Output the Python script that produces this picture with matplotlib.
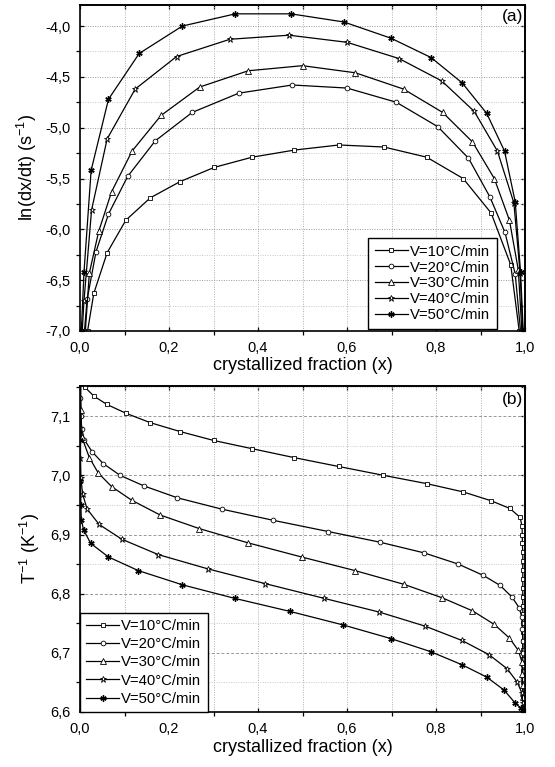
import matplotlib
matplotlib.use('Agg')
import matplotlib.pyplot as plt
from matplotlib.ticker import MultipleLocator, FuncFormatter

plt.rcParams['font.family'] = ['Liberation Sans', 'DejaVu Sans']
plt.rcParams['mathtext.fontset'] = 'custom'
plt.rcParams['mathtext.rm'] = 'Liberation Sans'
plt.rcParams['mathtext.it'] = 'Liberation Sans:italic'
plt.rcParams['mathtext.default'] = 'regular'

labels = ['V=10°C/min', 'V=20°C/min', 'V=30°C/min', 'V=40°C/min', 'V=50°C/min']

# ---------- panel (a): ln(dx/dt) vs crystallized fraction ----------
a10_x = [0.017, 0.031, 0.061, 0.103, 0.158, 0.225, 0.302, 0.387, 0.482, 0.582, 0.683, 0.779, 0.861, 0.924, 0.968, 0.987]
a10_y = [-7.00, -6.63, -6.23, -5.91, -5.69, -5.53, -5.39, -5.29, -5.22, -5.17, -5.19, -5.29, -5.50, -5.84, -6.35, -7.00]
a20_x = [0.010, 0.016, 0.036, 0.064, 0.107, 0.169, 0.252, 0.357, 0.477, 0.600, 0.711, 0.804, 0.873, 0.921, 0.955, 0.978, 0.990]
a20_y = [-7.00, -6.69, -6.22, -5.85, -5.48, -5.13, -4.85, -4.66, -4.58, -4.61, -4.75, -4.99, -5.30, -5.68, -6.03, -6.44, -7.00]
a30_x = [0.012, 0.021, 0.042, 0.071, 0.117, 0.182, 0.269, 0.378, 0.500, 0.619, 0.727, 0.815, 0.882, 0.931, 0.965, 0.985, 0.993]
a30_y = [-7.00, -6.43, -6.02, -5.63, -5.23, -4.88, -4.60, -4.44, -4.39, -4.46, -4.62, -4.85, -5.14, -5.50, -5.91, -6.40, -7.00]
a40_x = [0.005, 0.009, 0.026, 0.061, 0.124, 0.217, 0.337, 0.470, 0.600, 0.717, 0.813, 0.886, 0.938, 0.975, 0.989, 0.995]
a40_y = [-7.00, -6.70, -5.81, -5.11, -4.62, -4.30, -4.13, -4.09, -4.16, -4.32, -4.54, -4.84, -5.23, -5.74, -6.43, -7.00]
a50_x = [0.003, 0.009, 0.025, 0.064, 0.133, 0.230, 0.349, 0.474, 0.593, 0.699, 0.789, 0.859, 0.914, 0.954, 0.978, 0.990, 0.996]
a50_y = [-7.00, -6.42, -5.42, -4.72, -4.27, -4.00, -3.88, -3.88, -3.96, -4.12, -4.31, -4.56, -4.86, -5.23, -5.73, -6.42, -7.00]

# ---------- panel (b): 1/T vs crystallized fraction ----------
b10_x = [0.008, 0.011, 0.031, 0.060, 0.103, 0.158, 0.225, 0.300, 0.387, 0.481, 0.581, 0.682, 0.779, 0.861, 0.924, 0.966, 0.989,
         0.993, 0.994, 0.994, 0.995, 0.995, 0.995, 0.995, 0.995, 0.995, 0.995, 0.995, 0.995, 0.995, 0.995, 0.995, 0.995, 0.995, 0.995, 0.995, 0.995]
b10_y = [7.170, 7.149, 7.134, 7.120, 7.105, 7.089, 7.074, 7.059, 7.045, 7.030, 7.015, 7.000, 6.986, 6.972, 6.957, 6.944, 6.929,
         6.915, 6.900, 6.885, 6.870, 6.855, 6.840, 6.825, 6.810, 6.795, 6.780, 6.765, 6.750, 6.735, 6.720, 6.705, 6.690, 6.670, 6.650, 6.625, 6.600]
b20_x = [0.001, 0.001, 0.002, 0.004, 0.010, 0.027, 0.052, 0.090, 0.144, 0.219, 0.318, 0.434, 0.558, 0.674, 0.773, 0.850, 0.906, 0.944, 0.971, 0.987,
         0.993, 0.994, 0.995, 0.995, 0.995, 0.995, 0.995, 0.995]
b20_y = [7.170, 7.130, 7.100, 7.078, 7.060, 7.040, 7.020, 7.000, 6.982, 6.962, 6.943, 6.924, 6.905, 6.887, 6.869, 6.850, 6.831, 6.814, 6.794, 6.776,
         6.760, 6.740, 6.720, 6.700, 6.680, 6.655, 6.630, 6.600]
b30_x = [0.001, 0.002, 0.004, 0.021, 0.041, 0.071, 0.116, 0.180, 0.268, 0.377, 0.498, 0.618, 0.727, 0.814, 0.882, 0.931, 0.965, 0.985,
         0.993, 0.994, 0.995, 0.995, 0.995]
b30_y = [7.170, 7.110, 7.065, 7.030, 7.004, 6.981, 6.958, 6.933, 6.910, 6.886, 6.862, 6.839, 6.816, 6.793, 6.771, 6.748, 6.725, 6.704,
         6.685, 6.665, 6.645, 6.625, 6.600]
b40_x = [0.001, 0.001, 0.001, 0.002, 0.006, 0.016, 0.043, 0.094, 0.176, 0.287, 0.416, 0.549, 0.672, 0.776, 0.858, 0.919, 0.960, 0.983,
         0.993, 0.995, 0.995]
b40_y = [7.170, 7.080, 7.030, 6.995, 6.968, 6.943, 6.917, 6.892, 6.866, 6.842, 6.817, 6.792, 6.769, 6.745, 6.721, 6.697, 6.673, 6.650,
         6.632, 6.615, 6.600]
b50_x = [0.001, 0.001, 0.001, 0.002, 0.003, 0.008, 0.024, 0.064, 0.131, 0.230, 0.348, 0.472, 0.592, 0.699, 0.788, 0.858, 0.914, 0.953, 0.978,
         0.990, 0.995]
b50_y = [7.170, 7.060, 6.990, 6.950, 6.925, 6.908, 6.885, 6.862, 6.839, 6.815, 6.792, 6.770, 6.747, 6.724, 6.702, 6.680, 6.659, 6.637, 6.615,
         6.607, 6.600]

a_series = [(a10_x, a10_y), (a20_x, a20_y), (a30_x, a30_y), (a40_x, a40_y), (a50_x, a50_y)]
b_series = [(b10_x, b10_y), (b20_x, b20_y), (b30_x, b30_y), (b40_x, b40_y), (b50_x, b50_y)]

mstyles = [dict(marker='s', ms=3.2, mfc='white', mew=0.6),
           dict(marker='o', ms=3.4, mfc='white', mew=0.6),
           dict(marker='^', ms=3.8, mfc='white', mew=0.6),
           dict(marker='*', ms=5.0, mfc='white', mew=0.6),
           dict(marker=(6, 2, 0), ms=4.5, mfc='black', mew=1.0)]

fig = plt.figure(figsize=(5.55, 7.67), dpi=100)
W, H = 555.0, 767.0
ax1 = fig.add_axes([80 / W, 1 - 331 / H, 445 / W, 326 / H])
ax2 = fig.add_axes([80 / W, 1 - 712 / H, 445 / W, 326 / H])

comma = FuncFormatter(lambda v, p: ('%.1f' % v).replace('.', ','))


def style_axes(ax, ymajor, yminor, hdash):
    ax.set_xlim(0.0, 1.0)
    ax.xaxis.set_major_locator(MultipleLocator(0.2))
    ax.xaxis.set_minor_locator(MultipleLocator(0.1))
    ax.yaxis.set_major_locator(MultipleLocator(ymajor))
    ax.yaxis.set_minor_locator(MultipleLocator(yminor))
    ax.xaxis.set_major_formatter(comma)
    ax.yaxis.set_major_formatter(comma)
    ax.xaxis.grid(True, which='both', color='#b0b0b0', linestyle=(0, (1, 1.5)), linewidth=0.7)
    ax.yaxis.grid(True, which='minor', color='#c8c8c8', linestyle=(0, (1, 1.5)), linewidth=0.7)
    ax.yaxis.grid(True, which='major', color='#999999',
                  linestyle=(0, (3, 2)) if hdash else (0, (1, 1.5)), linewidth=0.7)
    ax.set_axisbelow(True)
    ax.tick_params(which='both', labelsize=10.5, top=False, right=False)
    ax.tick_params(which='major', direction='in', length=3, width=0.9, pad=7)
    ax.tick_params(which='minor', direction='out', length=3, width=0.9)
    for s in ax.spines.values():
        s.set_linewidth(1.2)
        s.set_color('black')
    ax.set_xlabel('crystallized fraction (x)', fontsize=13, labelpad=2)
    # mirrored ticks on the top and right edges, pointing inward
    top = ax.secondary_xaxis('top')
    top.xaxis.set_major_locator(MultipleLocator(0.2))
    top.xaxis.set_minor_locator(MultipleLocator(0.1))
    top.tick_params(which='both', direction='in', length=3, width=0.9, labeltop=False)
    top.spines['top'].set_linewidth(1.2)
    right = ax.secondary_yaxis('right')
    right.yaxis.set_major_locator(MultipleLocator(ymajor))
    right.yaxis.set_minor_locator(MultipleLocator(yminor))
    right.tick_params(which='both', direction='in', length=3, width=0.9, labelright=False)
    right.spines['right'].set_linewidth(1.2)


for (xs, ys), lab, st in zip(a_series, labels, mstyles):
    ax1.plot(xs, ys, color='black', lw=0.9, mec='black', label=lab, **st)
for (xs, ys), lab, st in zip(b_series, labels, mstyles):
    ax2.plot(xs, ys, color='black', lw=0.9, mec='black', label=lab, **st)

ax1.set_ylim(-7.0, -3.793)
style_axes(ax1, 0.5, 0.25, False)
ax1.set_ylabel('ln(dx/dt) (s$^{-1}$)', fontsize=13, labelpad=4)
ax1.text(0.996, 0.966, '(a)', transform=ax1.transAxes, ha='right', va='center', fontsize=12.5)

ax2.set_ylim(6.6, 7.151)
style_axes(ax2, 0.1, 0.05, True)
ax2.set_ylabel('T$^{-1}$ (K$^{-1}$)', fontsize=13, labelpad=6)
ax2.text(0.996, 0.96, '(b)', transform=ax2.transAxes, ha='right', va='center', fontsize=12.5)

leg_kw = dict(fontsize=10.7, frameon=True, fancybox=False, framealpha=1, edgecolor='black',
              handlelength=2.2, handletextpad=0.15, borderaxespad=0)
l1 = ax1.legend(loc='lower left', bbox_to_anchor=(0.648, 0.006), labelspacing=0.13, borderpad=0.45, **leg_kw)
l1.get_frame().set_linewidth(1.0)
l2 = ax2.legend(loc='lower left', bbox_to_anchor=(0.0, 0.0), labelspacing=0.28, borderpad=0.42, **leg_kw)
l2.get_frame().set_linewidth(1.0)

fig.savefig('out.png', dpi=100)
